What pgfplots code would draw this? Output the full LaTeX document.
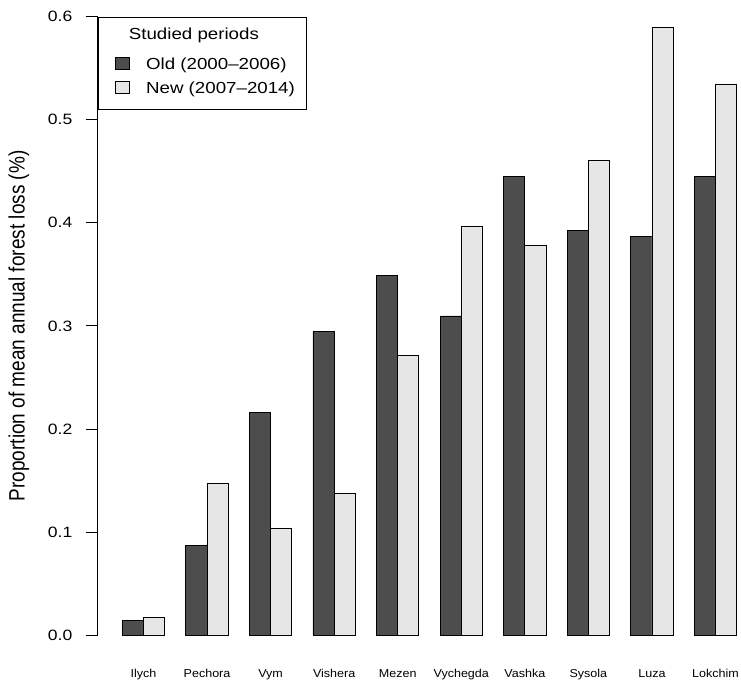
\documentclass[border=0pt]{standalone}
\usepackage{fontspec}
\setmainfont{Liberation Sans}
\usepackage{graphicx}
\usepackage{pgfplots}
\pgfplotsset{compat=1.18}
\definecolor{olddark}{HTML}{4D4D4D}
\definecolor{newlight}{HTML}{E6E6E6}
\pgfplotsset{
  mylegend/.style={legend image code/.code={%
    \draw[##1, line width=0.8pt] (17.3pt,0pt) rectangle (31.6pt,11.7pt);
    \path[draw=none, fill=none] (0pt,0pt) -- (48pt,0pt);}},
}
\begin{document}
\begin{tikzpicture}
\begin{axis}[
  at={(97.7pt,46pt)}, anchor=south west,
  scale only axis, width=643.2pt, height=618.3pt,
  xmin=-0.161, xmax=30.2, ymin=0, ymax=0.6,
  clip=false,
  separate axis lines,
  axis x line*=bottom, axis y line*=left,
  x axis line style={draw=none},
  y axis line style={black, line width=0.8pt},
  tick align=outside,
  major tick length=12pt,
  xtick={2,5,8,11,14,17,20,23,26,29},
  xticklabels={Ilych,Pechora,Vym,Vishera,Mezen,Vychegda,Vashka,Sysola,Luza,Lokchim},
  x tick style={draw=none},
  xticklabel style={font=\fontsize{11.5}{13}\selectfont, xscale=1.09, anchor=base, inner sep=0pt, yshift=-30.7pt},
  ytick={0,0.1,0.2,0.3,0.4,0.5,0.6},
  y tick style={black, line width=0.8pt},
  /pgf/number format/assume math mode=true,
  yticklabel={\pgfmathprintnumber[fixed, fixed zerofill, precision=1]{\tick}},
  yticklabel style={font=\fontsize{15}{18}\selectfont, xscale=1.17, anchor=east, inner sep=0pt, xshift=-11.2pt},
  ylabel={Proportion of mean annual forest loss (\%)},
  every axis y label/.style={at={(axis description cs:0,0.5)}, xshift=-78.7pt, xscale=1.17, rotate=90, anchor=center, font=\fontsize{19}{22}\selectfont},
  legend style={at={(axis cs:-0.161,0.6)}, anchor=north west, draw=black, line width=0.8pt, fill=white,
    inner sep=0pt, row sep=0pt, column sep=0pt, font=\fontsize{16}{19}\selectfont,
    cells={anchor=base west}, nodes={inner sep=0pt, text depth={}, text height={}}},
]
\addlegendimage{empty legend}
\addlegendentry{\hspace*{-57pt}\makebox[209.6pt][c]{\scalebox{1.17}[1]{Studied periods}}\rule[-12.4pt]{0pt}{35pt}}
\addplot[ybar, bar width=1, bar shift=0pt, fill=olddark, draw=black, line width=0.8pt, mylegend] coordinates {
  (1.5,0.0143) (4.5,0.0870) (7.5,0.2157) (10.5,0.2943) (13.5,0.3490)
  (16.5,0.3096) (19.5,0.4451) (22.5,0.3923) (25.5,0.3865) (28.5,0.4447)};
\addlegendentry{\scalebox{1.17}[1]{Old (2000–2006)}\hspace*{11.3pt}\rule[-7.3pt]{0pt}{24.3pt}}
\addplot[ybar, bar width=1, bar shift=0pt, fill=newlight, draw=black, line width=0.8pt, mylegend] coordinates {
  (2.5,0.0168) (5.5,0.1475) (8.5,0.1032) (11.5,0.1371) (14.5,0.2717)
  (17.5,0.3969) (20.5,0.3782) (23.5,0.4607) (26.5,0.5897) (29.5,0.5347)};
\addlegendentry{\scalebox{1.17}[1]{New (2007–2014)}\hspace*{11.3pt}\rule[-16pt]{0pt}{33pt}}
\end{axis}
\pgfresetboundingbox
\useasboundingbox (0,0) rectangle (741pt,681pt);
\end{tikzpicture}
\end{document}
